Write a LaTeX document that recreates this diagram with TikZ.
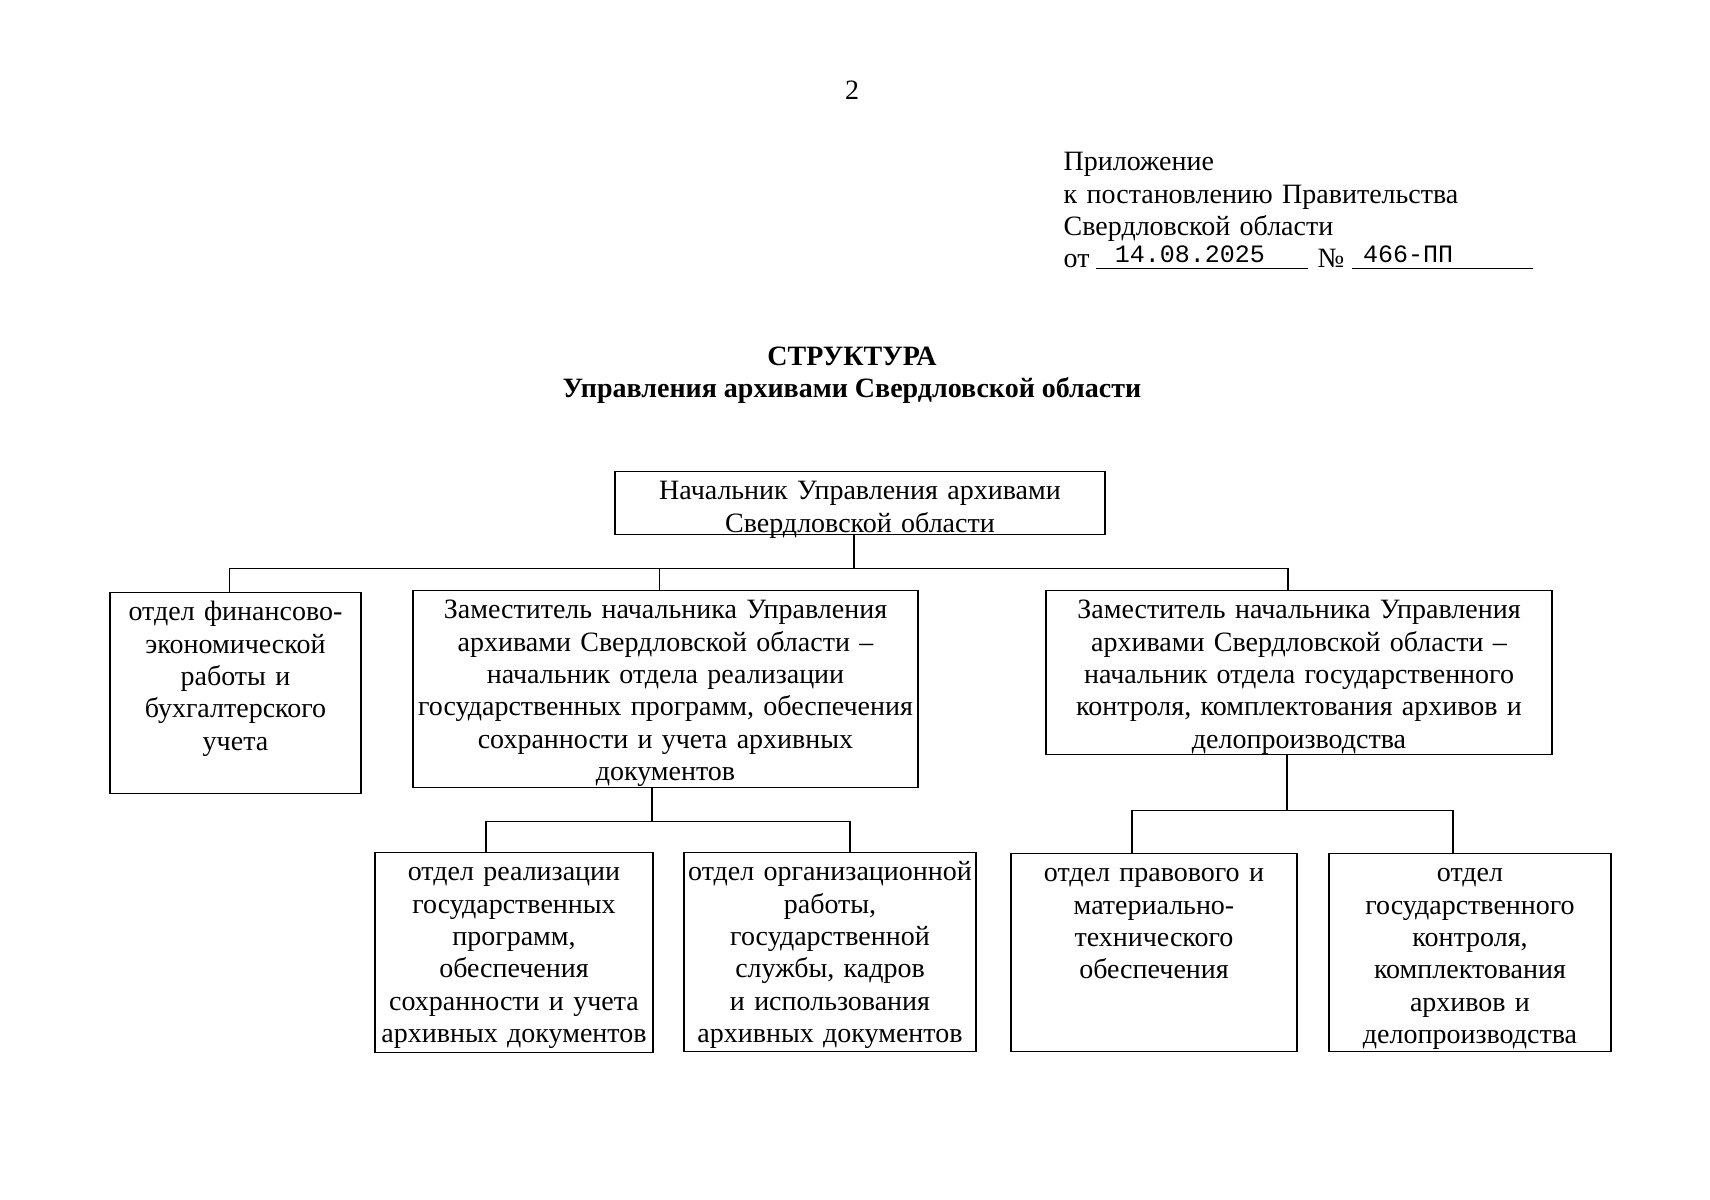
\documentclass[tikz,border=0pt]{standalone}
\usepackage{fontspec}
\setmainfont{Liberation Serif}
\newfontfamily\datefont{Liberation Mono}

\begin{document}
\begin{tikzpicture}[
  x=0.5pt, y=-0.5pt,
  line width=0.7pt,
  every node/.style={font=\fontsize{14}{16.2}\selectfont},
  unitbox/.style={draw, anchor=north, align=center, inner xsep=0.5pt, inner ysep=3.5pt, text height=10.5pt},
  link/.style={line width=0.6pt},
  formline/.style={line width=0.5pt},
  filled/.style={anchor=base, inner sep=0pt, font=\datefont\fontsize{12.5}{14}\selectfont},
  titletext/.style={anchor=base, font=\fontsize{14}{16.2}\selectfont\bfseries}
]
\useasboundingbox (0,0) rectangle (1710,1200);

\node (pagenum) at (852,90) {2};
\node[anchor=north west, align=left, inner sep=0pt, text height=9pt, text width=240pt] (appx) at (1063,152) {Приложение\\к постановлению Правительства\\Свердловской области};
\node[anchor=base west, inner sep=0pt] (ot) at (1063,267) {от};
\node[filled] (date) at (1190,262) {14.08.2025};
\node[anchor=base west, inner sep=0pt] (numsign) at (1317,267) {№};
\node[filled] (docnum) at (1408,262) {466-ПП};
\draw[formline] (1096,268) -- (1308,268);
\draw[formline] (1352,268) -- (1533,268);

\node[titletext] (title) at (852,365) {СТРУКТУРА};
\node[titletext] (subtitle) at (852,397) {Управления архивами Свердловской области};

\node[unitbox, text width=244pt, text depth=14pt] (head) at (860,471) {Начальник Управления архивами\\Свердловской области};

\node[unitbox, text width=124.5pt, text depth=83pt] (fin) at (235.5,592) {отдел финансово-\\экономической\\работы и\\бухгалтерского\\учета};
\node[unitbox, text width=251.5pt, text depth=81pt] (depA) at (665.5,590) {Заместитель начальника Управления\\архивами Свердловской области –\\начальник отдела реализации\\государственных программ, обеспечения\\сохранности и учета архивных\\документов};
\node[unitbox, text width=252pt, text depth=64.5pt] (depB) at (1299,590) {Заместитель начальника Управления\\архивами Свердловской области –\\начальник отдела государственного\\контроля, комплектования архивов и\\делопроизводства};

\node[unitbox, text width=138pt, text depth=82.5pt] (progr) at (514,852) {отдел реализации\\государственных\\программ,\\обеспечения\\сохранности и учета\\архивных документов};
\node[unitbox, text width=145pt, text depth=82pt] (org) at (830,852) {отдел организационной\\работы,\\государственной\\службы, кадров\\и использования\\архивных документов};
\node[unitbox, text width=142pt, text depth=81.5pt] (legal) at (1154,853) {отдел правового и\\материально-\\технического\\обеспечения};
\node[unitbox, text width=140pt, text depth=81.5pt] (ctrl) at (1470,853) {отдел\\государственного\\контроля,\\комплектования\\архивов и\\делопроизводства};

\draw[link] ([xshift=-3pt]head.south) -- ++(0,33) coordinate (busA) -| ([xshift=-3pt]fin.north);
\draw[link] (busA) -| ([xshift=-3pt]depA.north);
\draw[link] (busA) -| ([xshift=-5.5pt]depB.north);
\draw[link] ([xshift=-6.75pt]depA.south) -- ++(0,33) coordinate (busB) -| ([xshift=-14pt]progr.north);
\draw[link] (busB) -| ([xshift=10pt]org.north);
\draw[link] ([xshift=-6pt]depB.south) -- ++(0,55) coordinate (busC) -| ([xshift=-11pt]legal.north);
\draw[link] (busC) -| ([xshift=-8.5pt]ctrl.north);
\end{tikzpicture}
\end{document}
